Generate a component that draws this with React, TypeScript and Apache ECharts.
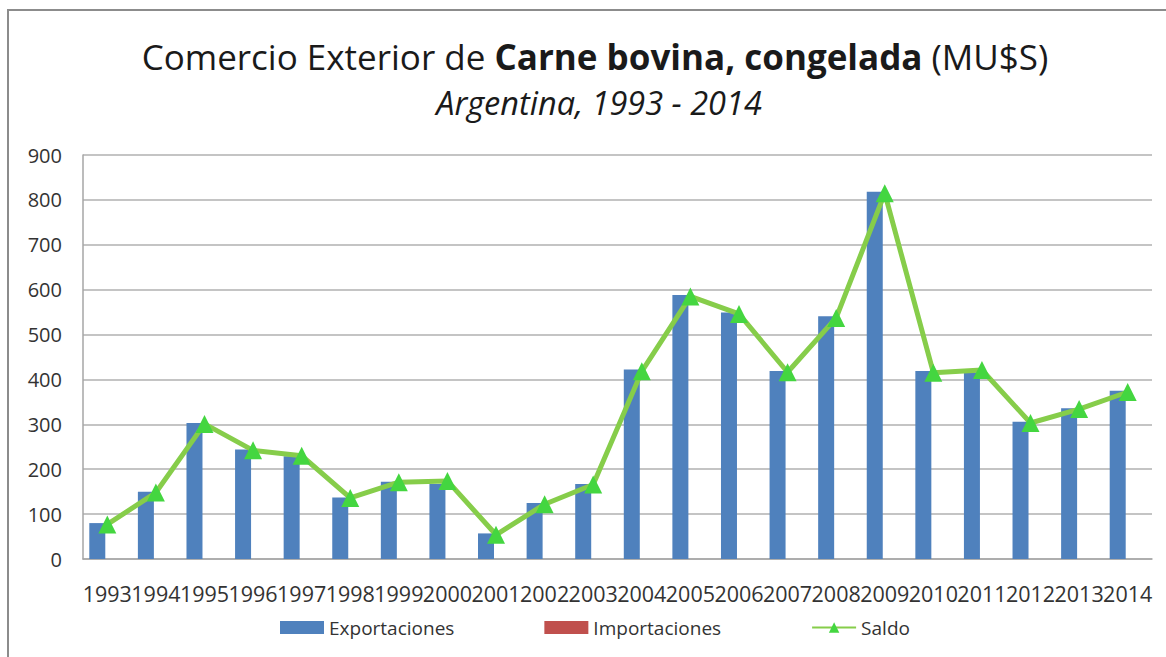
import React, { useEffect, useRef } from "react";
import * as echarts from "echarts";

const years = ["1993","1994","1995","1996","1997","1998","1999","2000","2001","2002","2003","2004","2005","2006","2007","2008","2009","2010","2011","2012","2013","2014"];
const exportaciones = [80,150,303,244,229,137,172,167,57,125,167,422,588,549,419,541,818,419,416,306,336,375];
const importaciones = [0,0,0,0,0,0,0,0,0,0,0,0,0,0,0,0,0,0,0,0,0,0];
const saldo = [77,148,301,242,230,136,171,174,54,122,166,418,585,546,416,537,815,415,421,303,334,372];

const FONT = "'Open Sans', 'DejaVu Sans', sans-serif";

export default function App() {
  const ref = useRef<HTMLDivElement>(null);
  useEffect(() => {
    if (!ref.current) return;
    const chart = echarts.init(ref.current, undefined, { renderer: "svg" });
    chart.setOption({
      animation: false,
      backgroundColor: "#ffffff",
      title: [
        {
          text: "{n|Comercio Exterior de }{b|Carne bovina, congelada}{n| (MU$S)}",
          left: 590,
          top: 34,
          textAlign: "center",
          textStyle: {
            rich: {
              n: { fontFamily: FONT, fontSize: 35, color: "#1a1a1a", fontWeight: "normal" },
              b: { fontFamily: FONT, fontSize: 35, color: "#1a1a1a", fontWeight: "bold" },
            },
          },
        },
        {
          text: "Argentina, 1993 - 2014",
          left: 594,
          top: 81,
          textAlign: "center",
          textStyle: { fontFamily: FONT, fontSize: 32.5, fontStyle: "italic", fontWeight: "normal", color: "#1a1a1a" },
        },
      ],
      graphic: [
        {
          type: "rect",
          shape: { x: 8, y: 10, width: 1200, height: 700 },
          style: { fill: "none", stroke: "#8c8c8c", lineWidth: 2 },
          silent: true,
        },
      ],
      legend: {
        left: 275,
        top: 613,
        itemWidth: 44,
        itemHeight: 13,
        itemGap: 90,
        textStyle: { fontFamily: FONT, fontSize: 19, color: "#333333" },
        data: [
          { name: "Exportaciones", icon: "rect" },
          { name: "Importaciones", icon: "rect" },
          { name: "Saldo" },
        ],
      },
      grid: { left: 83, right: 14, top: 155, bottom: 98 },
      xAxis: {
        type: "category",
        data: years,
        axisLine: { lineStyle: { color: "#a6a6a6", width: 1.5 } },
        axisTick: { show: false },
        axisLabel: { interval: 0, margin: 23, fontFamily: FONT, fontSize: 21.5, color: "#333333" },
      },
      yAxis: {
        type: "value",
        min: 0,
        max: 900,
        interval: 100,
        axisLine: { show: true, lineStyle: { color: "#a6a6a6", width: 1.5 } },
        axisTick: { show: false },
        splitLine: { lineStyle: { color: "#b0b0b0", width: 1.5 } },
        axisLabel: { margin: 21, fontFamily: FONT, fontSize: 20, color: "#333333" },
      },
      series: [
        {
          name: "Exportaciones",
          type: "bar",
          data: exportaciones,
          barWidth: 16,
          barGap: "25%",
          itemStyle: { color: "#4f81bd" },
        },
        {
          name: "Importaciones",
          type: "bar",
          data: importaciones,
          barWidth: 16,
          barGap: "25%",
          itemStyle: { color: "#c0504d" },
        },
        {
          name: "Saldo",
          type: "line",
          data: saldo,
          symbol: "triangle",
          symbolSize: 18,
          lineStyle: { color: "#86cd4a", width: 5 },
          itemStyle: { color: "#44d640", borderWidth: 0 },
          z: 5,
        },
      ],
    });
    return () => chart.dispose();
  }, []);
  return <div ref={ref} style={{ position: "absolute", left: 0, top: 0, width: 1166, height: 657 }} />;
}
